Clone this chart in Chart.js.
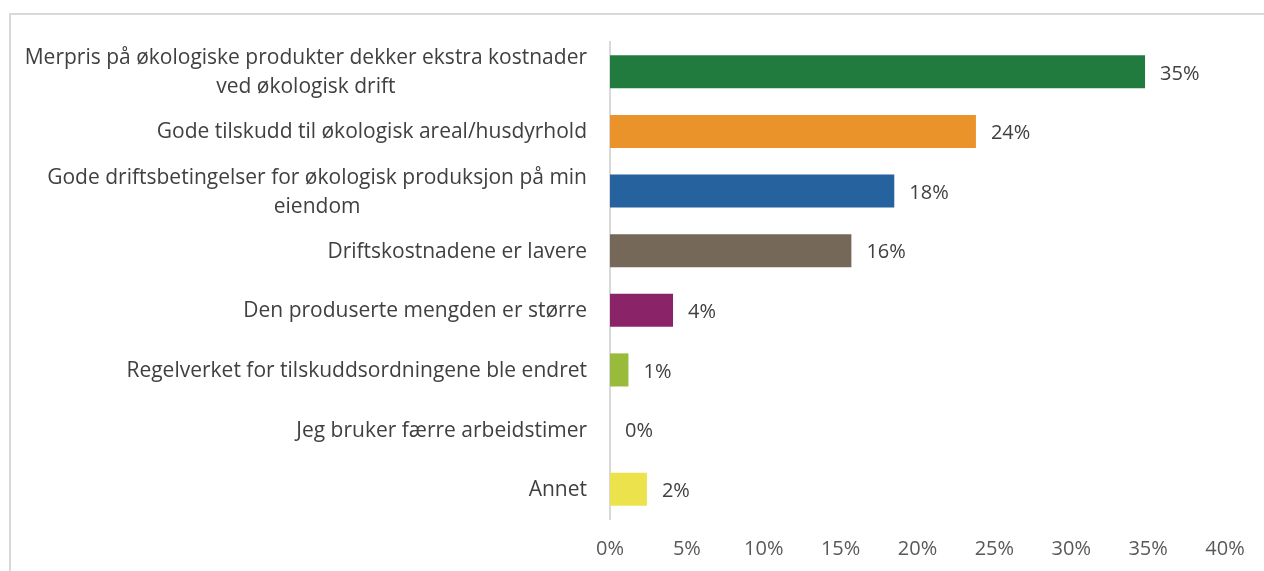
<!DOCTYPE html>
<html lang="no">
<head>
    <meta charset="UTF-8">
    <title>Årsaker til økologisk drift</title>
    <script src="https://cdn.jsdelivr.net/npm/chart.js@4.4.1/dist/chart.umd.min.js"></script>
    <style>
        html, body {
            margin: 0;
            padding: 0;
            background: #ffffff;
            overflow: hidden;
        }
        #frame {
            position: absolute;
            left: 9px;
            top: 13px;
            width: 1300px;
            height: 600px;
            border-top: 2px solid #d9d9d9;
            border-left: 2px solid #d9d9d9;
        }
        #wrap {
            position: absolute;
            left: 0;
            top: 0;
            width: 1264px;
            height: 571px;
        }
    </style>
</head>
<body>
    <div id="frame"></div>
    <div id="wrap"><canvas id="reasonChart" width="1264" height="571"></canvas></div>

    <script>
        // Categories (multi-line labels as arrays)
        const categories = [
            ['Merpris på økologiske produkter dekker ekstra kostnader', 'ved økologisk drift'],
            ['Gode tilskudd til økologisk areal/husdyrhold'],
            ['Gode driftsbetingelser for økologisk produksjon på min', 'eiendom'],
            ['Driftskostnadene er lavere'],
            ['Den produserte mengden er større'],
            ['Regelverket for tilskuddsordningene ble endret'],
            ['Jeg bruker færre arbeidstimer'],
            ['Annet']
        ];

        // Share of respondents (%)
        const shares = [34.8, 23.8, 18.49, 15.7, 4.1, 1.2, 0, 2.4];

        const barColors = ['#217b3f', '#e9932a', '#26639e', '#756859', '#8a2368', '#99bb3c', '#7f7f7f', '#ece34c'];

        // x axis ticks
        const tickMin = 0;
        const tickMax = 40;
        const tickStep = 5;

        const FONT = '"Open Sans", "Noto Sans", sans-serif';

        // Category labels: block right-aligned, lines centered inside the block
        const categoryLabels = {
            id: 'categoryLabels',
            afterDraw(chart) {
                const ctx = chart.ctx;
                const yScale = chart.scales.y;
                const rightX = chart.chartArea.left - 23;
                const lineH = 29;
                ctx.save();
                ctx.font = '21px ' + FONT;
                ctx.fillStyle = '#404040';
                ctx.textBaseline = 'middle';
                ctx.textAlign = 'center';
                categories.forEach((lines, i) => {
                    const yc = yScale.getPixelForValue(i) + 1;
                    const maxW = Math.max(...lines.map(l => ctx.measureText(l).width));
                    const cx = rightX - maxW / 2;
                    const y0 = yc - (lines.length - 1) * lineH / 2;
                    lines.forEach((l, k) => ctx.fillText(l, cx, y0 + k * lineH));
                });
                ctx.restore();
            }
        };

        // Value labels at the end of each bar
        const valueLabels = {
            id: 'valueLabels',
            afterDatasetsDraw(chart) {
                const ctx = chart.ctx;
                const meta = chart.getDatasetMeta(0);
                ctx.save();
                ctx.font = '20px ' + FONT;
                ctx.fillStyle = '#404040';
                ctx.textBaseline = 'middle';
                ctx.textAlign = 'left';
                meta.data.forEach((bar, i) => {
                    ctx.fillText(Math.round(shares[i]) + '%', bar.x + 15, bar.y + 2);
                });
                ctx.restore();
            }
        };

        const ctx = document.getElementById('reasonChart').getContext('2d');
        new Chart(ctx, {
            type: 'bar',
            data: {
                labels: categories.map(c => c.join(' ')),
                datasets: [{
                    data: shares,
                    backgroundColor: barColors,
                    borderWidth: 0,
                    categoryPercentage: 1,
                    barPercentage: 0.555
                }]
            },
            options: {
                indexAxis: 'y',
                responsive: false,
                animation: false,
                layout: {
                    padding: { top: 42, right: 39, left: 10, bottom: 0 }
                },
                plugins: {
                    legend: { display: false },
                    tooltip: { enabled: false }
                },
                scales: {
                    x: {
                        min: tickMin,
                        max: tickMax,
                        grid: { display: false, drawTicks: false },
                        border: { display: false },
                        afterFit(scale) { scale.height = 52; },
                        ticks: {
                            stepSize: tickStep,
                            padding: 18,
                            maxRotation: 0,
                            color: '#595959',
                            font: { family: FONT, size: 20 },
                            callback: v => v + '%'
                        }
                    },
                    y: {
                        grid: { display: false, drawTicks: false },
                        border: { display: true, color: '#d9d9d9', width: 2 },
                        ticks: { display: false },
                        afterFit(scale) { scale.width = 600; }
                    }
                }
            },
            plugins: [categoryLabels, valueLabels]
        });
    </script>
</body>
</html>
